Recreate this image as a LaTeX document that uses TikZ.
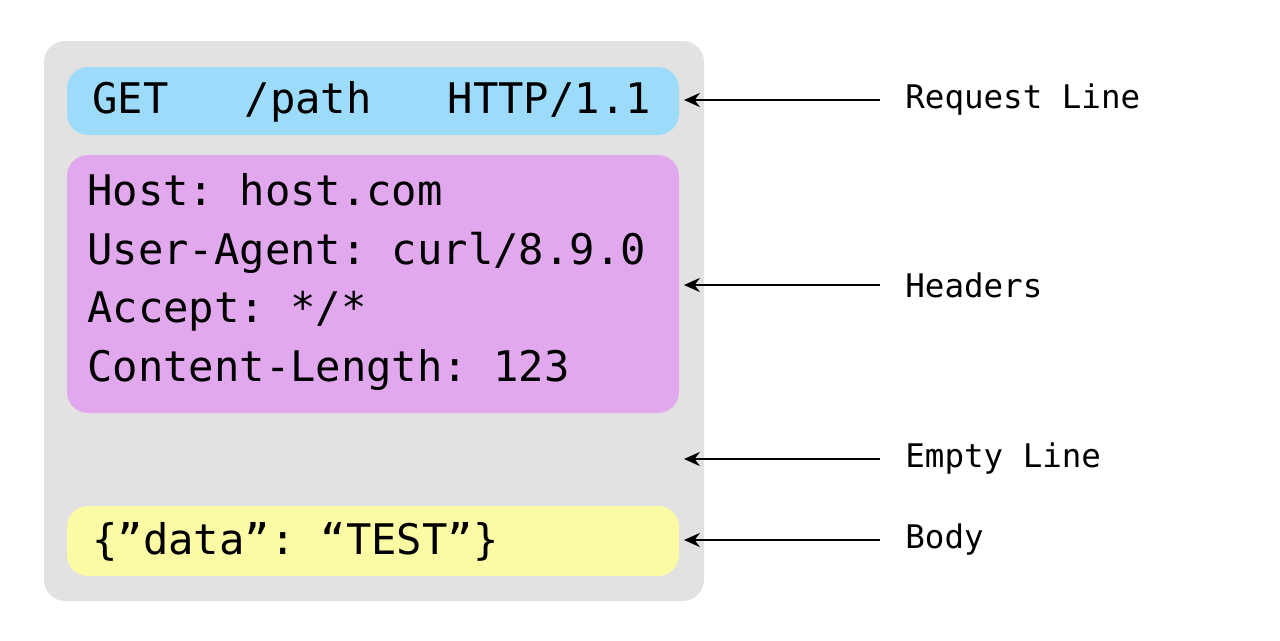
\documentclass[tikz,border=0pt]{standalone}
\usepackage{fontspec}
\usetikzlibrary{arrows.meta}
\setmonofont{DejaVu Sans Mono}
\definecolor{bg}{HTML}{E2E2E2}
\definecolor{blu}{HTML}{9DDBFB}
\definecolor{pur}{HTML}{E1A8EE}
\definecolor{yel}{HTML}{FBFBA6}
\begin{document}
\begin{tikzpicture}[x=0.02cm,y=-0.02cm,
  box/.style={rounded corners=12pt},
  big/.style={font=\ttfamily\fontsize{24}{33.5}\selectfont,anchor=west,inner sep=0,align=left},
  lab/.style={font=\ttfamily\fontsize{18.5}{22}\selectfont,anchor=west,inner sep=0},
  arr/.style={-{Stealth[length=9pt,width=8pt]},line width=1.2pt}]
\useasboundingbox (0,0) rectangle (1280,640);
\fill[bg,box] (44,41) rectangle (704,601);
\fill[blu,box] (67,67) rectangle (679,135);
\fill[pur,box] (67,155) rectangle (679,413);
\fill[yel,box] (67,506) rectangle (679,576);
\node[big] (rl) at (92,102) {GET\ \ \ /path\ \ \ HTTP/1.1};
\node[big] (hd) at (87,282) {Host: host.com\\User-Agent: curl/8.9.0\\Accept: */*\\Content-Length: 123};
\node[big] (bd) at (92,542) {\{”data”: “TEST”\}};
\node[lab] (l1) at (905,100) {Request Line};
\node[lab] (l2) at (905,285) {Headers};
\node[lab] (l3) at (905,459) {Empty Line};
\node[lab] (l4) at (905,540) {Body};
\coordinate (a1) at (684,100);\coordinate (a2) at (684,285);
\coordinate (a3) at (684,459);\coordinate (a4) at (684,540);
\foreach \i in {1,2,3,4}{\draw[arr] ([xshift=-0.5cm]l\i.west) -- (a\i);}
\end{tikzpicture}
\end{document}
